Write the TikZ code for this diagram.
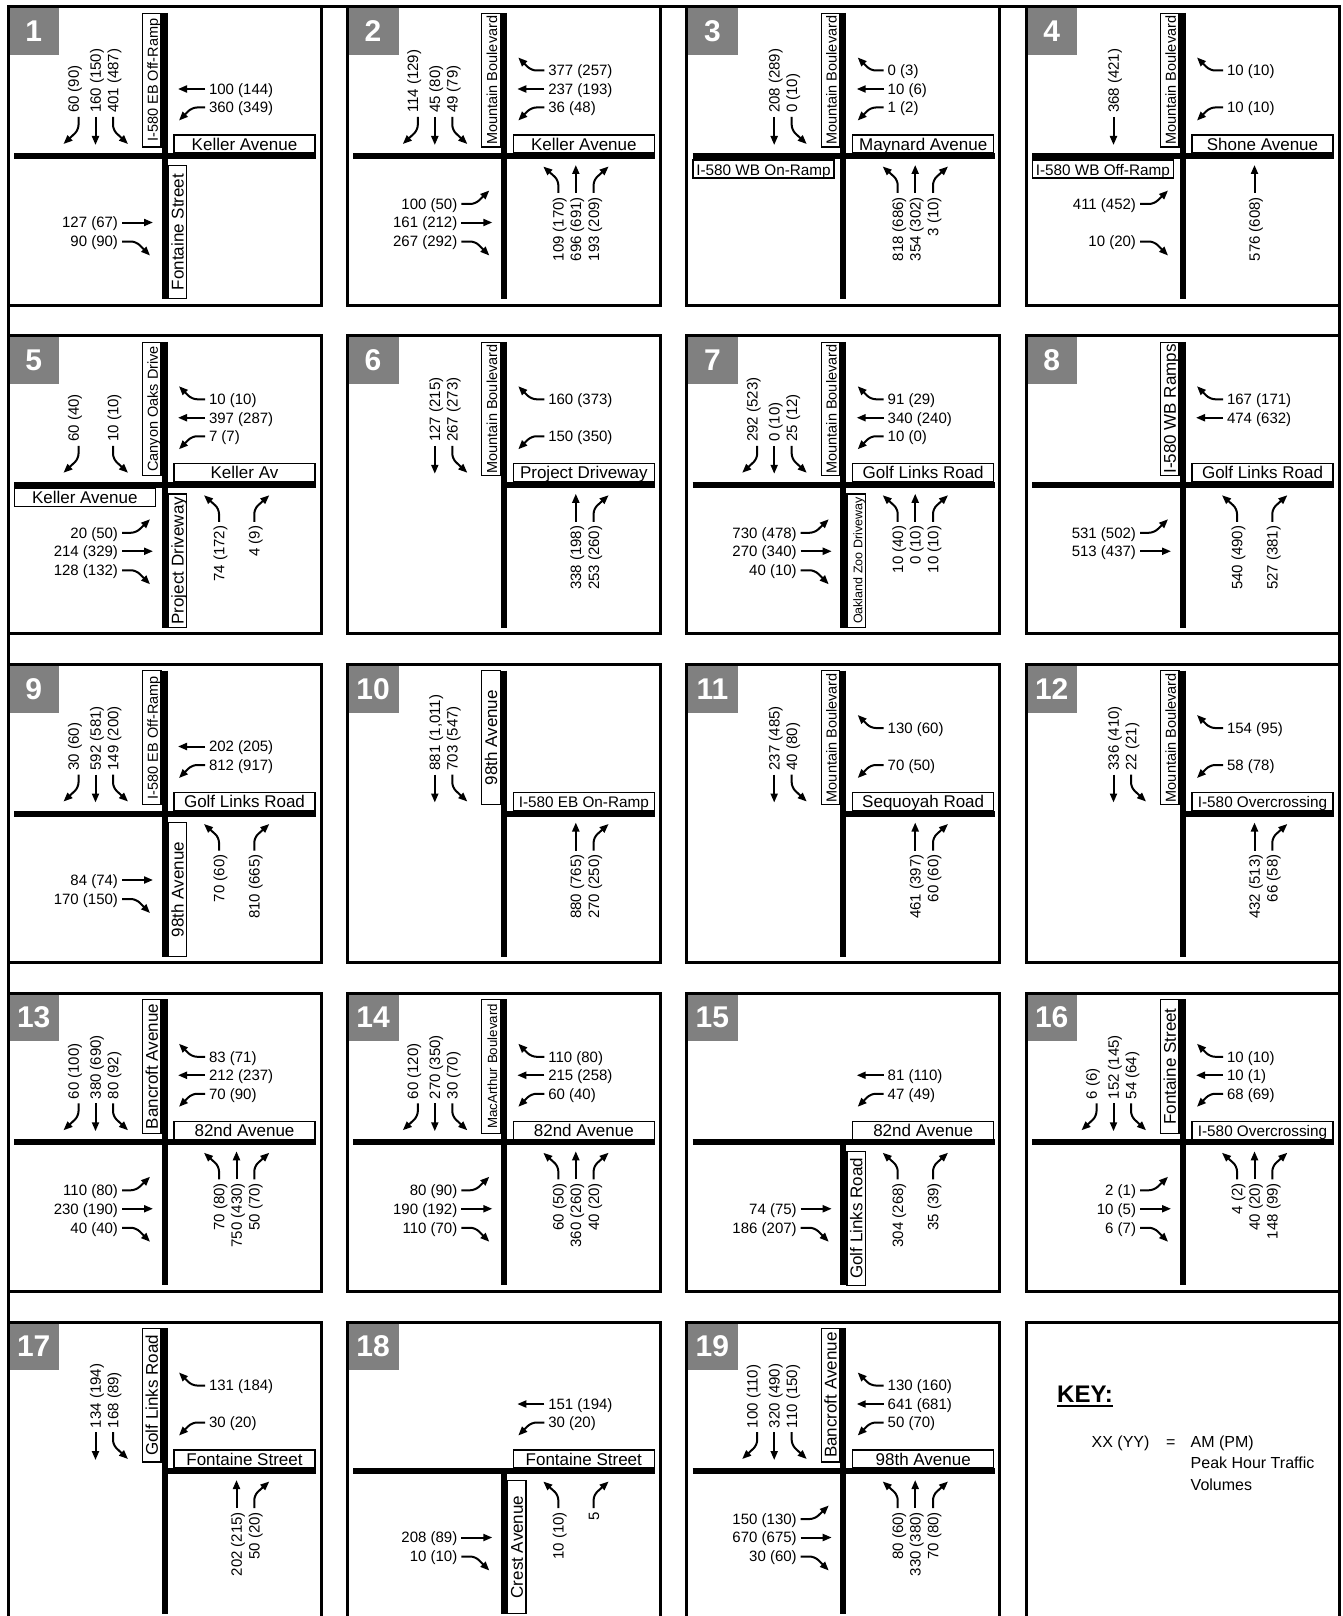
\documentclass[tikz,border=0pt]{standalone}
\usepackage{fontspec}
\setmainfont{Liberation Sans}
\usetikzlibrary{arrows.meta,positioning}
\definecolor{numgray}{RGB}{128,128,128}

\newcommand{\volfont}{\fontsize{15}{17}\selectfont}
\newcommand{\namefont}{\fontsize{17}{20}\selectfont}
\newcommand{\rampfont}{\fontsize{15.3}{18}\selectfont}
\newcommand{\narrowfont}{\fontsize{14.5}{17}\selectfont}
\newcommand{\tinyname}{\fontsize{12.5}{15}\selectfont}
\newcommand{\macfont}{\fontsize{13.3}{16}\selectfont}
\newcommand{\numfont}{\fontsize{30}{34}\selectfont\bfseries}
\newcommand{\keyfont}{\fontsize{16}{19}\selectfont}
\newcommand{\keyhfont}{\fontsize{24}{28}\selectfont\bfseries}

% street name boxes
\newcommand{\nwname}[3][]{\node[vname,#1] (#2) at (143.8,73.2) {#3};}
\newcommand{\nename}[3][]{\node[hname,#1] (#2) at (236.5,137) {#3};}
\newcommand{\swname}[3][]{\node[hname,#1] (#2) at (76.8,162) {#3};}
\newcommand{\sename}[3][]{\node[vname,#1] (#2) at (169.5,225) {#3};}

% turning movements
\newcommand{\southR}[2]{\node[vlbl,anchor=west] (#1) at (65.5,110) {#2};
  \draw[mv] ([xshift=5pt]#1.west) -- ++(0,13) -- ++(-15,14);}
\newcommand{\southT}[2]{\node[vlbl,anchor=west] (#1) at (87.5,110) {#2};
  \draw[mv] (#1.west) -- ++(0,28);}
\newcommand{\southL}[2]{\node[vlbl,anchor=west] (#1) at (105,110) {#2};
  \draw[mv] (#1.west) -- ++(0,13) -- ++(15,14);}
\newcommand{\westR}[2]{\node[lbl,anchor=west] (#1) at (197,63.5) {#2};
  \draw[mv] (#1.west) -- ++(-13,0) -- ++(-13,-13);}
\newcommand{\westT}[2]{\node[lbl,anchor=west] (#1) at (197,82) {#2};
  \draw[mv] (#1.west) -- ++(-27,0);}
\newcommand{\westL}[2]{\node[lbl,anchor=west] (#1) at (197,100.5) {#2};
  \draw[mv] (#1.west) -- ++(-13,0) -- ++(-13,13);}
\newcommand{\eastL}[2]{\node[lbl,anchor=east] (#1) at (114,197) {#2};
  \draw[mv] (#1.east) -- ++(14,0) -- ++(14,-13.5);}
\newcommand{\eastT}[2]{\node[lbl,anchor=east] (#1) at (114,215.5) {#2};
  \draw[mv] (#1.east) -- ++(31,0);}
\newcommand{\eastR}[2]{\node[lbl,anchor=east] (#1) at (114,234.5) {#2};
  \draw[mv] (#1.east) -- ++(14,0) -- ++(14,14);}
\newcommand{\northL}[2]{\node[vlbl,anchor=east] (#1) at (211,186) {#2};
  \draw[mv] (#1.east) -- ++(0,-13) -- ++(-15,-13.5);}
\newcommand{\northT}[2]{\node[vlbl,anchor=east] (#1) at (228.5,186) {#2};
  \draw[mv] (#1.east) -- ++(0,-28);}
\newcommand{\northR}[2]{\node[vlbl,anchor=east] (#1) at (246.3,186) {#2};
  \draw[mv] (#1.east) -- ++(0,-13) -- ++(15,-13.5);}

\begin{document}
\begin{tikzpicture}[
  x=1pt,
  y=-1pt,
  frameline/.style={line width=3pt},
  panel/.style={draw,line width=3pt},
  numbox/.style={
    fill=numgray,
    text=white,
    font=\numfont,
    anchor=north west,
    inner sep=0pt,
    minimum width=51pt,
    minimum height=48pt
  },
  road/.style={line width=6pt},
  namebox/.style={
    draw,
    fill=white,
    line width=1.2pt,
    inner sep=0pt,
    text height=13.9pt,
    text depth=1.7pt,
    font=\namefont
  },
  vname/.style={namebox,rotate=90,minimum width=133.7pt,minimum height=18.5pt},
  hname/.style={namebox,minimum width=141pt,minimum height=18pt},
  lbl/.style={
    font=\volfont,
    inner sep=0pt,
    outer xsep=4pt,
    text height=12.3pt,
    text depth=1.5pt
  },
  vlbl/.style={lbl,rotate=90},
  mv/.style={
    draw,
    line width=2pt,
    rounded corners=5pt,
    -{Triangle[length=9pt,width=7pt]}
  },
  keytxt/.style={font=\keyfont,inner sep=0pt,text height=12.5pt,text depth=3.5pt},
  keyhead/.style={font=\keyhfont,inner sep=0pt}
]
\useasboundingbox (0,0) rectangle (1342,1616);
\clip (0,0) rectangle (1342,1616);
\fill[white] (0,0) rectangle (1342,1616);
\draw[frameline] (8,1620) -- (8,7) -- (1339,7) -- (1339,1620);

% 1
\begin{scope}[shift={(8,7)}]
  \node[numbox] (n1) at (0,0) {1};
  \draw[panel] (0,0) rectangle (313,298);
  \draw[road] (6,149) -- (308,149);
  \draw[road] (156.5,6) -- (156.5,292);
  \nwname[font=\narrowfont]{p1nw}{I-580 EB Off-Ramp}
  \nename{p1ne}{Keller Avenue}
  \sename{p1se}{Fontaine Street}
  \southR{p1sr}{60 (90)}
  \southT{p1st}{160 (150)}
  \southL{p1sl}{401 (487)}
  \westT{p1wt}{100 (144)}
  \westL{p1wl}{360 (349)}
  \eastT{p1et}{127 (67)}
  \eastR{p1er}{90 (90)}
\end{scope}

% 2
\begin{scope}[shift={(347.3,7)}]
  \node[numbox] (n2) at (0,0) {2};
  \draw[panel] (0,0) rectangle (313,298);
  \draw[road] (6,149) -- (308,149);
  \draw[road] (156.5,6) -- (156.5,292);
  \nwname[font=\narrowfont]{p2nw}{Mountain Boulevard}
  \nename{p2ne}{Keller Avenue}
  \southR{p2sr}{114 (129)}
  \southT{p2st}{45 (80)}
  \southL{p2sl}{49 (79)}
  \westR{p2wr}{377 (257)}
  \westT{p2wt}{237 (193)}
  \westL{p2wl}{36 (48)}
  \eastL{p2el}{100 (50)}
  \eastT{p2et}{161 (212)}
  \eastR{p2er}{267 (292)}
  \northL{p2nl}{109 (170)}
  \northT{p2nt}{696 (691)}
  \northR{p2nr}{193 (209)}
\end{scope}

% 3
\begin{scope}[shift={(686.7,7)}]
  \node[numbox] (n3) at (0,0) {3};
  \draw[panel] (0,0) rectangle (313,298);
  \draw[road] (6,149) -- (308,149);
  \draw[road] (156.5,6) -- (156.5,292);
  \nwname[font=\narrowfont]{p3nw}{Mountain Boulevard}
  \nename{p3ne}{Maynard Avenue}
  \swname[font=\rampfont]{p3sw}{I-580 WB On-Ramp}
  \southT{p3st}{208 (289)}
  \southL{p3sl}{0 (10)}
  \westR{p3wr}{0 (3)}
  \westT{p3wt}{10 (6)}
  \westL{p3wl}{1 (2)}
  \northL{p3nl}{818 (686)}
  \northT{p3nt}{354 (302)}
  \northR{p3nr}{3 (10)}
\end{scope}

% 4
\begin{scope}[shift={(1026,7)}]
  \node[numbox] (n4) at (0,0) {4};
  \draw[panel] (0,0) rectangle (313,298);
  \draw[road] (6,149) -- (308,149);
  \draw[road] (156.5,6) -- (156.5,292);
  \nwname[font=\narrowfont]{p4nw}{Mountain Boulevard}
  \nename{p4ne}{Shone Avenue}
  \swname[font=\rampfont]{p4sw}{I-580 WB Off-Ramp}
  \southT{p4st}{368 (421)}
  \westR{p4wr}{10 (10)}
  \westL{p4wl}{10 (10)}
  \eastL{p4el}{411 (452)}
  \eastR{p4er}{10 (20)}
  \northT{p4nt}{576 (608)}
\end{scope}

% 5
\begin{scope}[shift={(8,335.75)}]
  \node[numbox] (n5) at (0,0) {5};
  \draw[panel] (0,0) rectangle (313,298);
  \draw[road] (6,149) -- (308,149);
  \draw[road] (156.5,6) -- (156.5,292);
  \nwname[font=\narrowfont]{p5nw}{Canyon Oaks Drive}
  \nename{p5ne}{Keller Av}
  \swname{p5sw}{Keller Avenue}
  \sename{p5se}{Project Driveway}
  \southR{p5sr}{60 (40)}
  \southL{p5sl}{10 (10)}
  \westR{p5wr}{10 (10)}
  \westT{p5wt}{397 (287)}
  \westL{p5wl}{7 (7)}
  \eastL{p5el}{20 (50)}
  \eastT{p5et}{214 (329)}
  \eastR{p5er}{128 (132)}
  \northL{p5nl}{74 (172)}
  \northR{p5nr}{4 (9)}
\end{scope}

% 6
\begin{scope}[shift={(347.3,335.75)}]
  \node[numbox] (n6) at (0,0) {6};
  \draw[panel] (0,0) rectangle (313,298);
  \draw[road] (156.5,149) -- (308,149);
  \draw[road] (156.5,6) -- (156.5,292);
  \nwname[font=\narrowfont]{p6nw}{Mountain Boulevard}
  \nename{p6ne}{Project Driveway}
  \southT{p6st}{127 (215)}
  \southL{p6sl}{267 (273)}
  \westR{p6wr}{160 (373)}
  \westL{p6wl}{150 (350)}
  \northT{p6nt}{338 (198)}
  \northR{p6nr}{253 (260)}
\end{scope}

% 7
\begin{scope}[shift={(686.7,335.75)}]
  \node[numbox] (n7) at (0,0) {7};
  \draw[panel] (0,0) rectangle (313,298);
  \draw[road] (6,149) -- (308,149);
  \draw[road] (156.5,6) -- (156.5,292);
  \nwname[font=\narrowfont]{p7nw}{Mountain Boulevard}
  \nename{p7ne}{Golf Links Road}
  \sename[font=\tinyname]{p7se}{Oakland Zoo Driveway}
  \southR{p7sr}{292 (523)}
  \southT{p7st}{0 (10)}
  \southL{p7sl}{25 (12)}
  \westR{p7wr}{91 (29)}
  \westT{p7wt}{340 (240)}
  \westL{p7wl}{10 (0)}
  \eastL{p7el}{730 (478)}
  \eastT{p7et}{270 (340)}
  \eastR{p7er}{40 (10)}
  \northL{p7nl}{10 (40)}
  \northT{p7nt}{0 (10)}
  \northR{p7nr}{10 (10)}
\end{scope}

% 8
\begin{scope}[shift={(1026,335.75)}]
  \node[numbox] (n8) at (0,0) {8};
  \draw[panel] (0,0) rectangle (313,298);
  \draw[road] (6,149) -- (308,149);
  \draw[road] (156.5,6) -- (156.5,292);
  \nwname{p8nw}{I-580 WB Ramps}
  \nename{p8ne}{Golf Links Road}
  \westR{p8wr}{167 (171)}
  \westT{p8wt}{474 (632)}
  \eastL{p8el}{531 (502)}
  \eastT{p8et}{513 (437)}
  \northL{p8nl}{540 (490)}
  \northR{p8nr}{527 (381)}
\end{scope}

% 9
\begin{scope}[shift={(8,664.5)}]
  \node[numbox] (n9) at (0,0) {9};
  \draw[panel] (0,0) rectangle (313,298);
  \draw[road] (6,149) -- (308,149);
  \draw[road] (156.5,6) -- (156.5,292);
  \nwname[font=\narrowfont]{p9nw}{I-580 EB Off-Ramp}
  \nename{p9ne}{Golf Links Road}
  \sename{p9se}{98th Avenue}
  \southR{p9sr}{30 (60)}
  \southT{p9st}{592 (581)}
  \southL{p9sl}{149 (200)}
  \westT{p9wt}{202 (205)}
  \westL{p9wl}{812 (917)}
  \eastT{p9et}{84 (74)}
  \eastR{p9er}{170 (150)}
  \northL{p9nl}{70 (60)}
  \northR{p9nr}{810 (665)}
\end{scope}

% 10
\begin{scope}[shift={(347.3,664.5)}]
  \node[numbox] (n10) at (0,0) {10};
  \draw[panel] (0,0) rectangle (313,298);
  \draw[road] (156.5,149) -- (308,149);
  \draw[road] (156.5,6) -- (156.5,292);
  \nwname{p10nw}{98th Avenue}
  \nename[font=\rampfont]{p10ne}{I-580 EB On-Ramp}
  \southT{p10st}{881 (1,011)}
  \southL{p10sl}{703 (547)}
  \northT{p10nt}{880 (765)}
  \northR{p10nr}{270 (250)}
\end{scope}

% 11
\begin{scope}[shift={(686.7,664.5)}]
  \node[numbox] (n11) at (0,0) {11};
  \draw[panel] (0,0) rectangle (313,298);
  \draw[road] (156.5,149) -- (308,149);
  \draw[road] (156.5,6) -- (156.5,292);
  \nwname[font=\narrowfont]{p11nw}{Mountain Boulevard}
  \nename{p11ne}{Sequoyah Road}
  \southT{p11st}{237 (485)}
  \southL{p11sl}{40 (80)}
  \westR{p11wr}{130 (60)}
  \westL{p11wl}{70 (50)}
  \northT{p11nt}{461 (397)}
  \northR{p11nr}{60 (60)}
\end{scope}

% 12
\begin{scope}[shift={(1026,664.5)}]
  \node[numbox] (n12) at (0,0) {12};
  \draw[panel] (0,0) rectangle (313,298);
  \draw[road] (156.5,149) -- (308,149);
  \draw[road] (156.5,6) -- (156.5,292);
  \nwname[font=\narrowfont]{p12nw}{Mountain Boulevard}
  \nename[font=\rampfont]{p12ne}{I-580 Overcrossing}
  \southT{p12st}{336 (410)}
  \southL{p12sl}{22 (21)}
  \westR{p12wr}{154 (95)}
  \westL{p12wl}{58 (78)}
  \northT{p12nt}{432 (513)}
  \northR{p12nr}{66 (58)}
\end{scope}

% 13
\begin{scope}[shift={(8,993.25)}]
  \node[numbox] (n13) at (0,0) {13};
  \draw[panel] (0,0) rectangle (313,298);
  \draw[road] (6,149) -- (308,149);
  \draw[road] (156.5,6) -- (156.5,292);
  \nwname{p13nw}{Bancroft Avenue}
  \nename{p13ne}{82nd Avenue}
  \southR{p13sr}{60 (100)}
  \southT{p13st}{380 (690)}
  \southL{p13sl}{80 (92)}
  \westR{p13wr}{83 (71)}
  \westT{p13wt}{212 (237)}
  \westL{p13wl}{70 (90)}
  \eastL{p13el}{110 (80)}
  \eastT{p13et}{230 (190)}
  \eastR{p13er}{40 (40)}
  \northL{p13nl}{70 (80)}
  \northT{p13nt}{750 (430)}
  \northR{p13nr}{50 (70)}
\end{scope}

% 14
\begin{scope}[shift={(347.3,993.25)}]
  \node[numbox] (n14) at (0,0) {14};
  \draw[panel] (0,0) rectangle (313,298);
  \draw[road] (6,149) -- (308,149);
  \draw[road] (156.5,6) -- (156.5,292);
  \nwname[font=\macfont]{p14nw}{MacArthur Boulevard}
  \nename{p14ne}{82nd Avenue}
  \southR{p14sr}{60 (120)}
  \southT{p14st}{270 (350)}
  \southL{p14sl}{30 (70)}
  \westR{p14wr}{110 (80)}
  \westT{p14wt}{215 (258)}
  \westL{p14wl}{60 (40)}
  \eastL{p14el}{80 (90)}
  \eastT{p14et}{190 (192)}
  \eastR{p14er}{110 (70)}
  \northL{p14nl}{60 (50)}
  \northT{p14nt}{360 (260)}
  \northR{p14nr}{40 (20)}
\end{scope}

% 15
\begin{scope}[shift={(686.7,993.25)}]
  \node[numbox] (n15) at (0,0) {15};
  \draw[panel] (0,0) rectangle (313,298);
  \draw[road] (6,149) -- (308,149);
  \draw[road] (156.5,149) -- (156.5,292);
  \nename{p15ne}{82nd Avenue}
  \sename{p15se}{Golf Links Road}
  \westT{p15wt}{81 (110)}
  \westL{p15wl}{47 (49)}
  \eastT{p15et}{74 (75)}
  \eastR{p15er}{186 (207)}
  \northL{p15nl}{304 (268)}
  \northR{p15nr}{35 (39)}
\end{scope}

% 16
\begin{scope}[shift={(1026,993.25)}]
  \node[numbox] (n16) at (0,0) {16};
  \draw[panel] (0,0) rectangle (313,298);
  \draw[road] (6,149) -- (308,149);
  \draw[road] (156.5,6) -- (156.5,292);
  \nwname{p16nw}{Fontaine Street}
  \nename[font=\rampfont]{p16ne}{I-580 Overcrossing}
  \southR{p16sr}{6 (6)}
  \southT{p16st}{152 (145)}
  \southL{p16sl}{54 (64)}
  \westR{p16wr}{10 (10)}
  \westT{p16wt}{10 (1)}
  \westL{p16wl}{68 (69)}
  \eastL{p16el}{2 (1)}
  \eastT{p16et}{10 (5)}
  \eastR{p16er}{6 (7)}
  \northL{p16nl}{4 (2)}
  \northT{p16nt}{40 (20)}
  \northR{p16nr}{148 (99)}
\end{scope}

% 17
\begin{scope}[shift={(8,1322)}]
  \node[numbox] (n17) at (0,0) {17};
  \draw[panel] (0,0) rectangle (313,298);
  \draw[road] (156.5,149) -- (308,149);
  \draw[road] (156.5,6) -- (156.5,292);
  \nwname{p17nw}{Golf Links Road}
  \nename{p17ne}{Fontaine Street}
  \southT{p17st}{134 (194)}
  \southL{p17sl}{168 (89)}
  \westR{p17wr}{131 (184)}
  \westL{p17wl}{30 (20)}
  \northT{p17nt}{202 (215)}
  \northR{p17nr}{50 (20)}
\end{scope}

% 18
\begin{scope}[shift={(347.3,1322)}]
  \node[numbox] (n18) at (0,0) {18};
  \draw[panel] (0,0) rectangle (313,298);
  \draw[road] (6,149) -- (308,149);
  \draw[road] (156.5,149) -- (156.5,292);
  \nename{p18ne}{Fontaine Street}
  \sename{p18se}{Crest Avenue}
  \westT{p18wt}{151 (194)}
  \westL{p18wl}{30 (20)}
  \eastT{p18et}{208 (89)}
  \eastR{p18er}{10 (10)}
  \northL{p18nl}{10 (10)}
  \northR{p18nr}{5}
\end{scope}

% 19
\begin{scope}[shift={(686.7,1322)}]
  \node[numbox] (n19) at (0,0) {19};
  \draw[panel] (0,0) rectangle (313,298);
  \draw[road] (6,149) -- (308,149);
  \draw[road] (156.5,6) -- (156.5,292);
  \nwname{p19nw}{Bancroft Avenue}
  \nename{p19ne}{98th Avenue}
  \southR{p19sr}{100 (110)}
  \southT{p19st}{320 (490)}
  \southL{p19sl}{110 (150)}
  \westR{p19wr}{130 (160)}
  \westT{p19wt}{641 (681)}
  \westL{p19wl}{50 (70)}
  \eastL{p19el}{150 (130)}
  \eastT{p19et}{670 (675)}
  \eastR{p19er}{30 (60)}
  \northL{p19nl}{80 (60)}
  \northT{p19nt}{330 (380)}
  \northR{p19nr}{70 (80)}
\end{scope}

% key
\begin{scope}[shift={(1026,1322)}]
  \draw[panel] (0,0) rectangle (313,298);
  \node[keyhead,anchor=base west] (keyh) at (31,80.6) {KEY:};
  \draw[line width=2pt] ([yshift=-3.5pt]keyh.base west) -- ([yshift=-3.5pt]keyh.base east);
  \node[keytxt,anchor=west] (kam) at (164.5,121) {AM (PM)};
  \node[keytxt,left=14.8pt of kam] (keq) {=};
  \node[keytxt,left=16.3pt of keq] (kxx) {XX (YY)};
  \node[keytxt,below=5pt of kam.south west,anchor=north west] (kpk) {Peak Hour Traffic};
  \node[keytxt,below=5pt of kpk.south west,anchor=north west] (kvol) {Volumes};
\end{scope}
\end{tikzpicture}
\end{document}
